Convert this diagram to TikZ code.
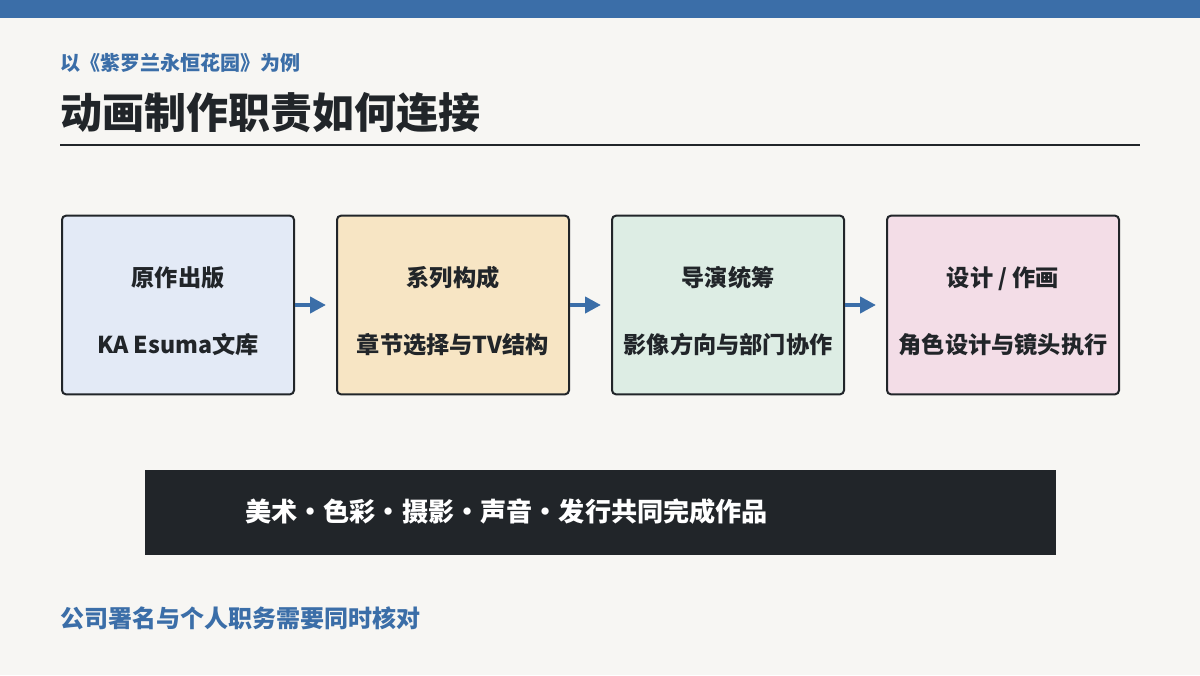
\documentclass[tikz,border=0pt]{standalone}
\usepackage{fontspec}
\setmainfont{Noto Sans CJK SC}
\usepackage{tikz}
\usepackage{xcolor}
\usetikzlibrary{positioning,arrows.meta}

\definecolor{barblue}{HTML}{3B6EA8}
\definecolor{pagebg}{HTML}{F7F6F3}
\definecolor{inkdark}{HTML}{212529}
\definecolor{fillblue}{HTML}{E3EAF6}
\definecolor{fillsand}{HTML}{F7E5C4}
\definecolor{fillmint}{HTML}{DDEDE4}
\definecolor{fillrose}{HTML}{F3DDE7}

% two text lines in a stage box, nudged a little below centre
\newcommand{\stagetext}[2]{\rule{0pt}{24pt}#1\\#2}

\tikzset{
  rolebox/.style={draw=inkdark, line width=1.5pt, rounded corners=3pt,
    minimum width=174pt, minimum height=134pt, align=center,
    font=\fontsize{17.4}{50}\selectfont\bfseries, text=inkdark},
  flowarrow/.style={draw=barblue, line width=3pt,
    -{Triangle[length=12pt,width=12pt]}, shorten >=7.5pt}
}

\begin{document}
\begin{tikzpicture}[x=0.75pt,y=-0.75pt]
        % Page and top bar
        \useasboundingbox (0,0) rectangle (1200,675);
        \fill[pagebg] (0,0) rectangle (1200,675);
        \fill[barblue] (0,0) rectangle (1200,18);

        % Headings
        \node[anchor=west, inner sep=0, text=barblue, font=\fontsize{15}{18}\selectfont\bfseries] (kicker) at (60,63) {以《紫罗兰永恒花园》为例};
        \node[anchor=west, inner sep=0, text=inkdark, font=\fontsize{31.5}{36}\selectfont\bfseries] (title) at (60,113) {动画制作职责如何连接};
        \draw[inkdark, line width=1.5pt] (60,145) -- (1140,145);

        % Four stages
        \node[rolebox, fill=fillblue] (source) at (178,305) {\stagetext{原作出版}{KA Esuma文库}};
        \node[rolebox, fill=fillsand, right=30.75pt of source] (series) {\stagetext{系列构成}{章节选择与TV结构}};
        \node[rolebox, fill=fillmint, right=30.75pt of series] (director) {\stagetext{导演统筹}{影像方向与部门协作}};
        \node[rolebox, fill=fillrose, right=30.75pt of director] (design) {\stagetext{设计 / 作画}{角色设计与镜头执行}};

        \draw[flowarrow] (source) -- (series);
        \draw[flowarrow] (series) -- (director);
        \draw[flowarrow] (director) -- (design);

        % Banner
        \fill[inkdark] (145,470) rectangle (1056,555);
        \node[anchor=west, inner sep=0, text=white, font=\fontsize{19.6}{22}\selectfont\bfseries] (crafts) at (245,512) {美术·色彩·摄影·声音·发行共同完成作品};

        % Footnote
        \node[anchor=west, inner sep=0, text=barblue, font=\fontsize{18}{22}\selectfont\bfseries] (credits) at (60,618) {公司署名与个人职务需要同时核对};
\end{tikzpicture}
\end{document}
